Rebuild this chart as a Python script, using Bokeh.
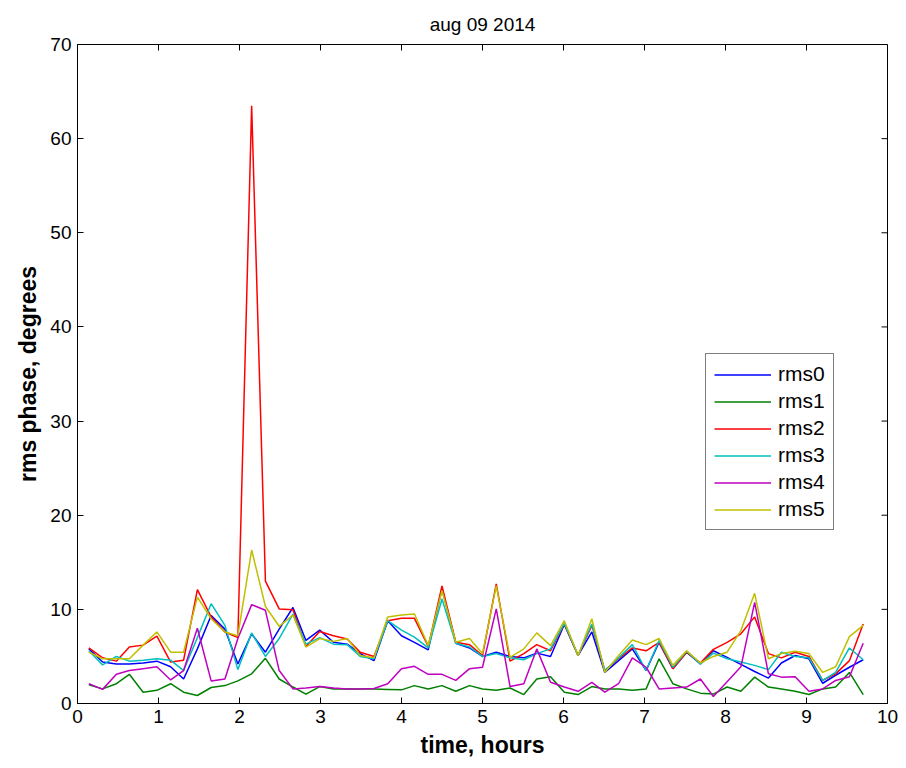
import math
from bokeh.plotting import figure
from bokeh.models import Range1d, FixedTicker
from bokeh.embed import file_html
from bokeh.resources import INLINE

# sample times (hours)
time_h = [0.14, 0.31, 0.48, 0.64, 0.81, 0.98, 1.15, 1.31, 1.48, 1.65,
          1.82, 1.98, 2.15, 2.32, 2.49, 2.66, 2.82, 2.99, 3.16, 3.33,
          3.49, 3.66, 3.83, 4.00, 4.16, 4.33, 4.50, 4.67, 4.84, 5.00,
          5.17, 5.34, 5.51, 5.67, 5.84, 6.01, 6.18, 6.35, 6.51, 6.68,
          6.85, 7.02, 7.18, 7.35, 7.52, 7.69, 7.85, 8.02, 8.19, 8.36,
          8.53, 8.69, 8.86, 9.03, 9.20, 9.36, 9.53, 9.70]

rms0 = [5.8, 4.4, 4.2, 4.2, 4.3, 4.5, 3.9, 2.6, 5.8, 9.35,
        7.9, 4.2, 7.4, 5.45, 7.9, 10.2, 6.7, 7.8, 6.5, 6.3,
        5.3, 4.55, 8.8, 7.2, 6.5, 5.7, 12.2, 6.4, 5.9, 5.0,
        5.45, 5.0, 4.85, 5.35, 5.0, 8.4, 5.1, 7.6, 3.3, 4.55,
        5.8, 3.5, 6.5, 3.7, 5.45, 4.2, 5.6, 4.9, 4.15, 3.4,
        2.7, 4.3, 5.1, 4.75, 2.15, 3.0, 3.85, 4.65]

rms1 = [2.0, 1.55, 2.1, 3.1, 1.2, 1.4, 2.1, 1.2, 0.85, 1.7,
        1.9, 2.4, 3.15, 4.8, 2.6, 1.75, 1.0, 1.8, 1.55, 1.55,
        1.55, 1.55, 1.5, 1.45, 1.9, 1.55, 1.9, 1.3, 1.9, 1.55,
        1.4, 1.65, 0.95, 2.6, 2.85, 1.2, 0.95, 1.8, 1.55, 1.55,
        1.4, 1.55, 4.75, 2.1, 1.55, 1.1, 1.0, 1.75, 1.3, 2.8,
        1.75, 1.55, 1.3, 0.95, 1.55, 1.75, 3.3, 0.95]

rms2 = [5.9, 4.85, 4.5, 6.0, 6.2, 7.15, 4.4, 4.6, 12.1, 9.2,
        7.6, 7.0, 63.5, 13.0, 10.05, 9.95, 6.05, 7.65, 7.2, 6.85,
        5.45, 5.0, 8.8, 9.05, 9.05, 6.05, 12.5, 6.5, 6.25, 5.1,
        12.7, 4.5, 5.3, 6.25, 5.6, 8.45, 5.1, 8.3, 3.5, 4.75,
        5.9, 5.6, 6.5, 3.7, 5.45, 4.3, 5.75, 6.5, 7.4, 9.2,
        5.3, 4.85, 5.45, 5.0, 2.45, 3.15, 4.55, 8.45]

rms3 = [5.6, 4.1, 5.0, 4.5, 4.6, 4.75, 4.6, 3.5, 7.0, 10.6,
        8.3, 3.6, 7.5, 5.0, 6.9, 9.5, 6.3, 7.0, 6.3, 6.25,
        5.0, 4.75, 8.8, 7.8, 7.05, 5.9, 11.1, 6.4, 6.0, 5.0,
        5.3, 4.85, 4.65, 5.3, 5.8, 8.5, 5.1, 8.45, 3.5, 4.85,
        6.25, 3.5, 6.7, 3.85, 5.55, 4.2, 5.35, 4.75, 4.4, 4.05,
        3.6, 5.45, 5.0, 4.85, 2.45, 3.3, 5.9, 4.65]

rms4 = [2.1, 1.5, 3.1, 3.5, 3.7, 3.9, 2.5, 3.5, 8.0, 2.4,
        2.6, 6.9, 10.5, 9.9, 3.5, 1.55, 1.65, 1.8, 1.65, 1.55,
        1.55, 1.6, 2.1, 3.7, 3.95, 3.1, 3.1, 2.45, 3.7, 3.85,
        10.05, 1.8, 2.1, 5.8, 2.25, 1.75, 1.3, 2.25, 1.2, 2.1,
        4.85, 3.85, 1.55, 1.65, 1.75, 2.6, 0.75, 2.3, 3.9, 10.75,
        3.15, 2.8, 2.85, 1.3, 1.55, 2.45, 2.85, 6.4]

rms5 = [5.45, 4.75, 4.75, 4.75, 6.2, 7.6, 5.45, 5.45, 11.3, 9.0,
        7.6, 7.2, 16.3, 10.3, 8.2, 9.4, 6.0, 6.9, 6.6, 6.9,
        5.1, 4.85, 9.2, 9.4, 9.5, 6.15, 12.0, 6.5, 6.9, 5.3,
        12.5, 4.9, 5.8, 7.5, 6.15, 8.8, 5.1, 9.0, 3.3, 5.1,
        6.75, 6.25, 6.9, 4.05, 5.6, 4.3, 5.0, 5.45, 7.75, 11.7,
        4.75, 5.3, 5.55, 5.3, 3.3, 3.9, 7.1, 8.3]

x_ticks = [0, 1, 2, 3, 4, 5, 6, 7, 8, 9, 10]
y_ticks = [0, 10, 20, 30, 40, 50, 60, 70]
x_max = 10
y_max = 70

series = [
    ("rms0", rms0, "#0000ff"),
    ("rms1", rms1, "#008000"),
    ("rms2", rms2, "#ff0000"),
    ("rms3", rms3, "#00bfbf"),
    ("rms4", rms4, "#bf00bf"),
    ("rms5", rms5, "#bfbf00"),
]

FONT = "Liberation Sans"

p = figure(width=906, height=768, output_backend="svg", toolbar_location=None,
           x_range=Range1d(0, x_max), y_range=Range1d(0, y_max),
           min_border_left=77, min_border_right=19,
           min_border_top=44, min_border_bottom=65,
           title="aug 09 2014")

p.title.align = "center"
p.title.text_font = FONT
p.title.text_font_size = "19px"
p.title.text_font_style = "normal"
p.title.text_color = "black"
p.title.standoff = 20

p.grid.visible = False
p.background_fill_color = "white"
p.border_fill_color = "white"
p.outline_line_color = "black"
p.outline_line_width = 1

for name, vals, color in series:
    p.line(time_h, vals, line_color=color, line_width=1.5, legend_label=name)

# inward ticks along the top and right edges of the box
p.ray(x=x_ticks, y=[y_max] * len(x_ticks), length=6, length_units="screen",
      angle=-math.pi / 2, line_color="black", line_width=1)
p.ray(x=[x_max] * len(y_ticks), y=y_ticks, length=6, length_units="screen",
      angle=math.pi, line_color="black", line_width=1)

for ax, ticks in ((p.xaxis[0], x_ticks), (p.yaxis[0], y_ticks)):
    ax.ticker = FixedTicker(ticks=ticks)
    ax.minor_tick_line_color = None
    ax.major_tick_in = 6
    ax.major_tick_out = 0
    ax.axis_line_color = "black"
    ax.major_tick_line_color = "black"
    ax.major_label_text_font = FONT
    ax.major_label_text_font_size = "19px"
    ax.major_label_text_color = "black"
    ax.major_label_standoff = 6
    ax.axis_label_text_font = FONT
    ax.axis_label_text_font_size = "23px"
    ax.axis_label_text_font_style = "bold"
    ax.axis_label_text_color = "black"
    ax.axis_label_standoff = 6

p.xaxis[0].axis_label = "time, hours"
p.yaxis[0].axis_label = "rms phase, degrees"

lg = p.legend[0]
lg.location = (628, 173)
lg.border_line_color = "black"
lg.border_line_width = 1
lg.background_fill_color = "white"
lg.background_fill_alpha = 1
lg.label_text_font = FONT
lg.label_text_font_size = "21px"
lg.label_text_color = "black"
lg.glyph_width = 57
lg.glyph_height = 21
lg.label_height = 21
lg.spacing = 3
lg.padding = 8
lg.margin = 0
lg.label_standoff = 7

open("out.html", "w").write(file_html(p, INLINE))
